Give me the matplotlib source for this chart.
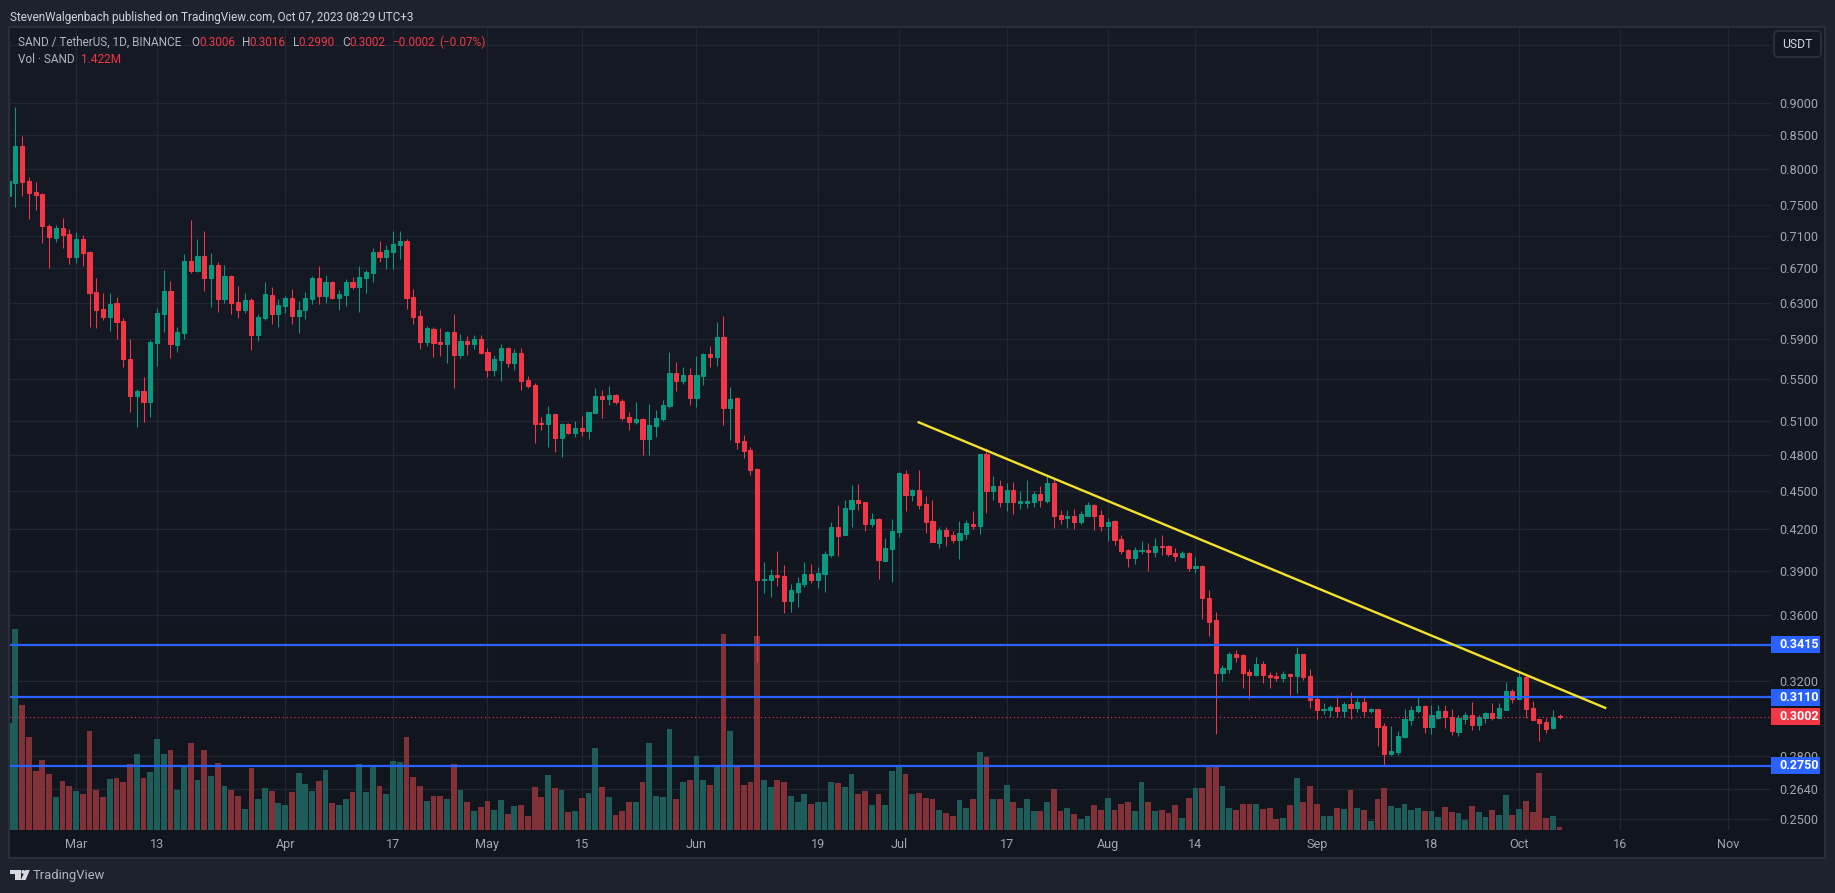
import matplotlib
matplotlib.use('Agg')
import matplotlib.pyplot as plt
import matplotlib.dates as mdates
import numpy as np
import pandas as pd
from matplotlib.patches import FancyBboxPatch, Polygon, Rectangle, Circle
from matplotlib.ticker import NullLocator
from matplotlib.transforms import IdentityTransform

plt.rcParams['font.family'] = ['Roboto', 'DejaVu Sans']

# SAND/USDT daily candles, first one is cut by the left edge
first_day = '2023-02-19'

opens = [0.7631, 0.7810, 0.8340, 0.7834, 0.7681, 0.7653, 0.7227, 0.7078, 0.7202, 0.7125,
         0.6841, 0.7061, 0.6899, 0.6422, 0.6233, 0.6145, 0.6297, 0.6097, 0.5696, 0.5334,
         0.5379, 0.5277, 0.5865, 0.6178, 0.6433, 0.5844, 0.5971, 0.6788, 0.6668, 0.6849,
         0.6585, 0.6740, 0.6346, 0.6609, 0.6308, 0.6222, 0.6331, 0.5950, 0.6133, 0.6388,
         0.6178, 0.6267, 0.6353, 0.6156, 0.6222, 0.6346, 0.6585, 0.6380, 0.6538, 0.6357,
         0.6391, 0.6538, 0.6484, 0.6589, 0.6648, 0.6899, 0.6841, 0.6903, 0.6986, 0.7036,
         0.6365, 0.6152, 0.5876, 0.6010, 0.5872, 0.5851, 0.5978, 0.5740, 0.5883, 0.5851,
         0.5904, 0.5768, 0.5585, 0.5686, 0.5809, 0.5655, 0.5758, 0.5486, 0.5437, 0.5079,
         0.5070, 0.5162, 0.4948, 0.5070, 0.4989, 0.5034, 0.5007, 0.5171, 0.5331, 0.5302,
         0.5341, 0.5284, 0.5136, 0.5087, 0.5115, 0.4938, 0.5056, 0.5115, 0.5237, 0.5555,
         0.5473, 0.5536, 0.5312, 0.5525, 0.5746, 0.5715, 0.5924, 0.5216, 0.5312, 0.4918,
         0.4838, 0.4677, 0.3836, 0.3836, 0.3870, 0.3862, 0.3693, 0.3754, 0.3807, 0.3875,
         0.3836, 0.3875, 0.4011, 0.4217, 0.4158, 0.4353, 0.4425, 0.4410, 0.4240, 0.4278,
         0.3968, 0.4055, 0.4180, 0.4636, 0.4464, 0.4506, 0.4392, 0.4263, 0.4096, 0.4194,
         0.4158, 0.4116, 0.4163, 0.4240, 0.4223, 0.4806, 0.4497, 0.4537, 0.4410, 0.4509,
         0.4401, 0.4401, 0.4410, 0.4473, 0.4419, 0.4561, 0.4309, 0.4286, 0.4301, 0.4257,
         0.4304, 0.4386, 0.4309, 0.4223, 0.4263, 0.4127, 0.4046, 0.3989, 0.4038, 0.4046,
         0.4033, 0.4077, 0.4077, 0.4025, 0.3995, 0.4025, 0.3917, 0.3930, 0.3713, 0.3568,
         0.3249, 0.3270, 0.3359, 0.3353, 0.3253, 0.3235, 0.3299, 0.3235, 0.3229, 0.3218,
         0.3243, 0.3231, 0.3359, 0.3229, 0.3099, 0.3039, 0.3039, 0.3055, 0.3033, 0.3071,
         0.3050, 0.3083, 0.3033, 0.3042, 0.2953, 0.2809, 0.2819, 0.2895, 0.2985, 0.3033,
         0.3061, 0.2948, 0.2995, 0.3033, 0.2999, 0.2921, 0.2990, 0.3012, 0.2958, 0.2995,
         0.3022, 0.2995, 0.3039, 0.3144, 0.3099, 0.3224, 0.3050, 0.2990, 0.2974, 0.2942,
         0.3006]
highs = [0.7834, 0.8943, 0.8491, 0.7885, 0.7820, 0.7672, 0.7253, 0.7240, 0.7327, 0.7189,
         0.7146, 0.7112, 0.6911, 0.6585, 0.6407, 0.6410, 0.6361, 0.6126, 0.5904, 0.5398,
         0.5515, 0.5893, 0.6237, 0.6680, 0.6550, 0.6036, 0.6874, 0.7305, 0.7061, 0.7163,
         0.6886, 0.6772, 0.6740, 0.6620, 0.6491, 0.6407, 0.6350, 0.6174, 0.6534, 0.6480,
         0.6342, 0.6376, 0.6457, 0.6319, 0.6422, 0.6609, 0.6728, 0.6620, 0.6550, 0.6445,
         0.6573, 0.6597, 0.6728, 0.6680, 0.6948, 0.7036, 0.6986, 0.7163, 0.7163, 0.7061,
         0.6457, 0.6218, 0.6043, 0.6028, 0.6021, 0.5989, 0.6174, 0.5957, 0.5936, 0.5950,
         0.5946, 0.5809, 0.5737, 0.5851, 0.5820, 0.5799, 0.5809, 0.5526, 0.5457, 0.5134,
         0.5236, 0.5162, 0.5079, 0.5079, 0.5098, 0.5144, 0.5180, 0.5408, 0.5389, 0.5427,
         0.5350, 0.5298, 0.5184, 0.5273, 0.5125, 0.5255, 0.5195, 0.5291, 0.5766, 0.5661,
         0.5612, 0.5604, 0.5727, 0.5758, 0.5829, 0.6087, 0.6153, 0.5418, 0.5320, 0.4975,
         0.4868, 0.4687, 0.3960, 0.3912, 0.4038, 0.3936, 0.3810, 0.3857, 0.3960, 0.3946,
         0.3922, 0.4036, 0.4254, 0.4383, 0.4422, 0.4543, 0.4552, 0.4410, 0.4321, 0.4286,
         0.4135, 0.4278, 0.4649, 0.4668, 0.4513, 0.4668, 0.4461, 0.4425, 0.4217, 0.4214,
         0.4189, 0.4260, 0.4269, 0.4339, 0.4809, 0.4861, 0.4621, 0.4583, 0.4559, 0.4574,
         0.4497, 0.4586, 0.4497, 0.4537, 0.4621, 0.4605, 0.4348, 0.4345, 0.4353, 0.4339,
         0.4407, 0.4392, 0.4348, 0.4286, 0.4269, 0.4160, 0.4057, 0.4071, 0.4113, 0.4096,
         0.4135, 0.4158, 0.4082, 0.4060, 0.4036, 0.4030, 0.3995, 0.3936, 0.3766, 0.3619,
         0.3294, 0.3371, 0.3383, 0.3359, 0.3270, 0.3341, 0.3317, 0.3253, 0.3253, 0.3258,
         0.3249, 0.3401, 0.3359, 0.3270, 0.3116, 0.3075, 0.3066, 0.3121, 0.3083, 0.3138,
         0.3105, 0.3116, 0.3050, 0.3044, 0.2969, 0.2953, 0.2927, 0.3044, 0.3061, 0.3110,
         0.3066, 0.3066, 0.3066, 0.3066, 0.3044, 0.3012, 0.3028, 0.3083, 0.3012, 0.3028,
         0.3075, 0.3077, 0.3195, 0.3155, 0.3247, 0.3235, 0.3088, 0.2990, 0.2995, 0.3039,
         0.3016]
lows = [0.7631, 0.7482, 0.7631, 0.7323, 0.7442, 0.7015, 0.6708, 0.7027, 0.6952, 0.6756,
        0.6768, 0.6732, 0.6036, 0.6025, 0.6112, 0.5992, 0.5900, 0.5618, 0.5184, 0.5046,
        0.5092, 0.5137, 0.5629, 0.5975, 0.5710, 0.5764, 0.5900, 0.6648, 0.6656, 0.6437,
        0.6256, 0.6200, 0.6293, 0.6178, 0.6134, 0.6181, 0.5792, 0.5883, 0.6105, 0.6068,
        0.6036, 0.6189, 0.6068, 0.5971, 0.6123, 0.6289, 0.6289, 0.6300, 0.6346, 0.6222,
        0.6267, 0.6460, 0.6200, 0.6414, 0.6542, 0.6780, 0.6696, 0.6696, 0.6817, 0.6233,
        0.6068, 0.5802, 0.5834, 0.5720, 0.5730, 0.5659, 0.5411, 0.5710, 0.5740, 0.5799,
        0.5751, 0.5519, 0.5529, 0.5479, 0.5618, 0.5585, 0.5389, 0.5411, 0.4901, 0.5016,
        0.4869, 0.4822, 0.4780, 0.4980, 0.4954, 0.4963, 0.4936, 0.5171, 0.5125, 0.5246,
        0.5255, 0.5104, 0.5015, 0.5073, 0.4793, 0.4793, 0.4955, 0.5097, 0.5220, 0.5378,
        0.5447, 0.5244, 0.5227, 0.5436, 0.5612, 0.5623, 0.5060, 0.4928, 0.4848, 0.4770,
        0.4627, 0.3312, 0.3746, 0.3721, 0.3797, 0.3614, 0.3622, 0.3653, 0.3787, 0.3815,
        0.3779, 0.3756, 0.3997, 0.4003, 0.4158, 0.4217, 0.4348, 0.4183, 0.4217, 0.3841,
        0.3968, 0.3823, 0.4141, 0.4339, 0.4419, 0.4356, 0.4172, 0.4104, 0.4060, 0.4077,
        0.4099, 0.3981, 0.4127, 0.4200, 0.4166, 0.4327, 0.4425, 0.4371, 0.4342, 0.4315,
        0.4353, 0.4359, 0.4374, 0.4374, 0.4401, 0.4209, 0.4243, 0.4209, 0.4200, 0.4243,
        0.4301, 0.4197, 0.4183, 0.4110, 0.4085, 0.4016, 0.3925, 0.3946, 0.4016, 0.3896,
        0.3995, 0.4011, 0.4006, 0.3968, 0.3992, 0.3896, 0.3885, 0.3577, 0.3472, 0.2912,
        0.3201, 0.3247, 0.3311, 0.3161, 0.3099, 0.3229, 0.3189, 0.3159, 0.3201, 0.3195,
        0.3121, 0.3133, 0.3206, 0.3050, 0.2990, 0.3017, 0.2999, 0.2999, 0.2999, 0.2990,
        0.3028, 0.3004, 0.3024, 0.2849, 0.2754, 0.2803, 0.2803, 0.2890, 0.2958, 0.3022,
        0.2916, 0.2911, 0.2990, 0.2942, 0.2906, 0.2900, 0.2963, 0.2932, 0.2932, 0.2969,
        0.2985, 0.2995, 0.3039, 0.3077, 0.3099, 0.2995, 0.2985, 0.2875, 0.2916, 0.2937,
        0.2990]
closes = [0.7834, 0.8340, 0.7824, 0.7672, 0.7640, 0.7232, 0.7091, 0.7202, 0.7112, 0.6841,
          0.7061, 0.6886, 0.6414, 0.6222, 0.6145, 0.6289, 0.6090, 0.5693, 0.5334, 0.5379,
          0.5277, 0.5872, 0.6185, 0.6433, 0.5855, 0.5978, 0.6788, 0.6668, 0.6849, 0.6585,
          0.6740, 0.6346, 0.6609, 0.6300, 0.6222, 0.6331, 0.5950, 0.6141, 0.6399, 0.6178,
          0.6274, 0.6353, 0.6156, 0.6218, 0.6353, 0.6585, 0.6380, 0.6538, 0.6357, 0.6403,
          0.6538, 0.6484, 0.6597, 0.6656, 0.6899, 0.6841, 0.6923, 0.6998, 0.7036, 0.6357,
          0.6145, 0.5876, 0.6021, 0.5865, 0.5851, 0.5978, 0.5740, 0.5883, 0.5851, 0.5904,
          0.5758, 0.5585, 0.5696, 0.5809, 0.5655, 0.5758, 0.5476, 0.5427, 0.5070, 0.5070,
          0.5162, 0.4948, 0.5070, 0.4989, 0.5034, 0.5007, 0.5180, 0.5331, 0.5302, 0.5341,
          0.5274, 0.5125, 0.5087, 0.5115, 0.4938, 0.5060, 0.5125, 0.5244, 0.5555, 0.5480,
          0.5536, 0.5312, 0.5536, 0.5746, 0.5715, 0.5924, 0.5216, 0.5302, 0.4911, 0.4832,
          0.4668, 0.3836, 0.3841, 0.3870, 0.3857, 0.3693, 0.3766, 0.3815, 0.3875, 0.3833,
          0.3883, 0.4016, 0.4217, 0.4149, 0.4362, 0.4425, 0.4401, 0.4240, 0.4278, 0.3976,
          0.4060, 0.4183, 0.4646, 0.4464, 0.4503, 0.4386, 0.4254, 0.4104, 0.4194, 0.4149,
          0.4116, 0.4172, 0.4246, 0.4223, 0.4806, 0.4497, 0.4537, 0.4410, 0.4509, 0.4410,
          0.4419, 0.4419, 0.4473, 0.4422, 0.4562, 0.4300, 0.4278, 0.4301, 0.4257, 0.4315,
          0.4383, 0.4304, 0.4223, 0.4254, 0.4116, 0.4038, 0.3989, 0.4046, 0.4046, 0.4033,
          0.4077, 0.4068, 0.4016, 0.4003, 0.4022, 0.3917, 0.3933, 0.3713, 0.3560, 0.3247,
          0.3276, 0.3359, 0.3341, 0.3247, 0.3235, 0.3299, 0.3235, 0.3224, 0.3218, 0.3241,
          0.3229, 0.3359, 0.3224, 0.3094, 0.3039, 0.3044, 0.3055, 0.3033, 0.3071, 0.3050,
          0.3083, 0.3033, 0.3044, 0.2948, 0.2809, 0.2824, 0.2900, 0.2990, 0.3039, 0.3061,
          0.2948, 0.3012, 0.3033, 0.3001, 0.2927, 0.2995, 0.3012, 0.2958, 0.2999, 0.3022,
          0.2995, 0.3050, 0.3144, 0.3099, 0.3224, 0.3044, 0.2985, 0.2969, 0.2937, 0.3001,
          0.3002]
# volume in millions of SAND
volumes = [50.6, 95.3, 59.2, 44.1, 28.0, 33.2, 26.5, 15.6, 23.2, 20.9, 18.5, 17.1, 46.9, 19.0,
           15.6, 24.2, 24.6, 22.8, 31.3, 36.0, 24.6, 27.5, 43.1, 36.0, 37.9, 19.0, 30.3, 41.2,
           23.7, 37.9, 25.6, 31.8, 20.9, 19.0, 16.1, 10.0, 29.4, 14.7, 19.9, 18.5, 12.8, 11.8,
           18.0, 27.0, 21.8, 18.5, 23.2, 28.4, 12.8, 11.8, 14.7, 18.0, 31.3, 18.0, 30.8, 20.9,
           17.1, 32.7, 32.2, 44.1, 25.1, 20.9, 13.7, 16.1, 16.1, 14.7, 31.3, 19.0, 13.3, 9.0,
           10.9, 13.7, 9.5, 14.2, 7.6, 11.4, 11.8, 6.6, 20.4, 15.6, 26.1, 19.9, 19.0, 8.5, 9.0,
           15.2, 17.5, 38.9, 20.4, 15.6, 7.1, 9.1, 13.4, 13.4, 22.9, 41.1, 16.3, 15.8, 47.7,
           14.5, 22.6, 23.5, 35.3, 23.8, 21.2, 30.3, 92.7, 47.1, 30.3, 21.5, 22.6, 92.1, 23.8,
           20.6, 23.8, 22.9, 16.3, 13.4, 16.9, 12.5, 13.4, 13.1, 22.6, 22.1, 20.6, 26.4, 16.9,
           18.3, 11.7, 16.9, 12.0, 27.8, 31.0, 26.4, 17.2, 17.7, 15.4, 14.5, 9.7, 7.9, 6.8,
           14.0, 10.6, 14.9, 36.8, 34.8, 14.9, 14.5, 21.5, 13.4, 10.2, 14.5, 9.1, 9.1, 13.1,
           19.2, 9.1, 10.6, 7.4, 5.4, 6.8, 11.7, 9.7, 15.4, 9.7, 12.5, 13.4, 9.1, 22.9, 13.4,
           8.8, 9.7, 7.9, 12.0, 5.9, 15.4, 19.7, 20.1, 30.3, 30.3, 20.9, 10.4, 9.5, 12.3, 12.3,
           12.3, 10.0, 10.4, 5.2, 5.7, 11.8, 24.6, 13.3, 20.9, 12.3, 6.6, 6.6, 10.4, 10.0, 19.0,
           10.4, 9.5, 4.3, 14.7, 19.9, 11.4, 10.4, 12.3, 9.5, 10.4, 9.0, 9.0, 6.2, 10.9, 8.5,
           8.1, 4.7, 11.4, 8.5, 6.2, 9.5, 7.1, 16.6, 7.1, 10.0, 13.7, 8.5, 27.0, 5.7, 6.6, 1.4]

price_ticks = [1.0, 0.9, 0.85, 0.8, 0.75, 0.71, 0.67, 0.63, 0.59, 0.55, 0.51, 0.48, 0.45,
               0.42, 0.39, 0.36, 0.32, 0.28, 0.264, 0.25]
time_ticks = ['2023-03-01', '2023-03-13', '2023-04-01', '2023-04-17', '2023-05-01', '2023-05-15',
              '2023-06-01', '2023-06-19', '2023-07-01', '2023-07-17', '2023-08-01', '2023-08-14',
              '2023-09-01', '2023-09-18', '2023-10-01', '2023-10-16', '2023-11-01']
time_labels = ['Mar', '13', 'Apr', '17', 'May', '15', 'Jun', '19', 'Jul', '17', 'Aug', '14',
               'Sep', '18', 'Oct', '16', 'Nov']
levels = [0.3415, 0.3110, 0.2750]
last_close = 0.3002
trend_days = ['2023-07-03 19:00', '2023-10-13 22:00']
trend_prices = [0.5090, 0.3048]

W, H = 1835, 893
UP, DOWN = '#089981', '#f23645'
BLUE = '#2962ff'
TEXT = '#b2b5be'
MUTED = '#a3a6af'
AX_L, AX_R, AX_T, AX_B = 10, 1771, 27, 830


def rect(x0, y0, x1, y1):
    return [x0 / W, 1 - y1 / H, (x1 - x0) / W, (y1 - y0) / H]


def ftext(x, y, s, **kw):
    kw.setdefault('fontsize', 8.45)
    kw.setdefault('va', 'center')
    return fig.text(x / W, 1 - y / H, s, zorder=10, **kw)


def pbox(x0, y0, x1, y1, color):
    fig.add_artist(Rectangle((x0, H - y1), x1 - x0, y1 - y0, facecolor=color, edgecolor='none',
                             transform=IdentityTransform(), zorder=9))


fig = plt.figure(figsize=(W / 100, H / 100), dpi=100, facecolor='#1e222d')

# chart panel, slightly darker towards the bottom
panel = fig.add_axes(rect(10, 27, 1824, 857), zorder=0)
panel.imshow(np.linspace(0, 1, 64).reshape(-1, 1), aspect='auto', cmap=matplotlib.colors.LinearSegmentedColormap.from_list('p', ['#161a25', '#11151e']))
panel.axis('off')
fig.add_artist(Rectangle((9, H - 858), 1816, 831, facecolor='none', edgecolor='#2a2e39', linewidth=1.5,
                         transform=IdentityTransform(), zorder=1))

dates = mdates.date2num(pd.date_range(first_day, periods=len(opens)))
xlim = (mdates.date2num(pd.Timestamp('2023-02-20')) - 0.80, mdates.date2num(pd.Timestamp('2023-02-20')) + 260.35)
ylim = (0.24513, 1.0320)

# grid and axis labels
ax = fig.add_axes(rect(AX_L, AX_T, AX_R, AX_B), zorder=2)
ax.patch.set_visible(False)
ax.set_yscale('log')
ax.set_xlim(*xlim)
ax.set_ylim(*ylim)
ax.yaxis.tick_right()
ax.set_yticks(price_ticks)
ax.set_yticklabels([''] + ['%.4f' % p for p in price_ticks[1:]])
ax.yaxis.set_minor_locator(NullLocator())
ax.set_xticks(mdates.date2num(pd.to_datetime(time_ticks)))
ax.set_xticklabels(time_labels)
ax.tick_params(axis='both', length=0, colors=MUTED, labelsize=9.1)
ax.tick_params(axis='y', pad=5.8)
ax.tick_params(axis='x', pad=5.8)
ax.grid(True, color='#232732', linewidth=0.9)
ax.set_axisbelow(True)
for s in ax.spines.values():
    s.set_visible(False)

is_up = np.array(closes) >= np.array(opens)

# volume pane shares the bottom edge of the price pane
ax_vol = fig.add_axes(rect(AX_L, AX_T, AX_R, AX_B), zorder=3)
ax_vol.patch.set_visible(False)
ax_vol.axis('off')
ax_vol.bar(dates, volumes, width=0.86, color=np.where(is_up, '#1f625e', '#8b3439'), alpha=0.93, linewidth=0)
ax_vol.set_xlim(*xlim)
ax_vol.set_ylim(0, 380.6)

ax_top = fig.add_axes(rect(AX_L, AX_T, AX_R, AX_B), zorder=4)
ax_top.patch.set_visible(False)
ax_top.set_yscale('log')
ax_top.axis('off')
colors = np.where(is_up, UP, DOWN)
ax_top.vlines(dates, lows, highs, colors=colors, linewidth=0.75)
ax_top.bar(dates, np.abs(np.array(closes) - np.array(opens)), bottom=np.minimum(opens, closes), width=0.62,
           color=colors, edgecolor=colors, linewidth=0.72)
for lvl in levels:
    ax_top.axhline(lvl, color=BLUE, linewidth=1.6, zorder=5)
ax_top.axhline(last_close, color=DOWN, linewidth=0.8, linestyle=(0, (1, 2.5)), zorder=4)
ax_top.plot(mdates.date2num(pd.to_datetime(trend_days)), trend_prices, color='#f5e32a', linewidth=1.7,
            zorder=6, solid_capstyle='butt')
ax_top.set_xlim(*xlim)
ax_top.set_ylim(*ylim)

# price labels on the scale
for lvl, col in [(0.3415, BLUE), (0.3110, BLUE), (0.3002, DOWN), (0.2750, BLUE)]:
    yp = H - ax_top.transData.transform((xlim[0], lvl))[1]
    pbox(1771, yp - 8.5, 1820, yp + 8.5, col)
    ftext(1779, yp, '%.4f' % lvl, color='white', fontsize=9.0, fontweight='bold')

# header
ftext(10, 17, 'StevenWalgenbach published on TradingView.com, Oct 07, 2023 08:29 UTC+3', color='#d1d4dc')
ftext(18, 42, 'SAND / TetherUS, 1D, BINANCE', color=TEXT)
for x, s, col in [(191, 'O', TEXT), (199, '0.3006', DOWN), (242, 'H', TEXT), (249, '0.3016', DOWN),
                  (293, 'L', TEXT), (298, '0.2990', DOWN), (342, 'C', TEXT), (349, '0.3002', DOWN),
                  (392, '\u22120.0002', DOWN), (439, '(\u22120.07%)', DOWN)]:
    ftext(x, 42, s, color=col)
ftext(18, 59.5, 'Vol \u00b7 SAND', color=TEXT)
ftext(81.5, 59.5, '1.422M', color=DOWN)

# currency button
fig.add_artist(FancyBboxPatch((1776, H - 55), 43, 22, boxstyle='round,pad=2,rounding_size=4', facecolor='#131722',
                              edgecolor='#2a2e39', linewidth=1.4, transform=IdentityTransform(), zorder=9))
ftext(1797.5, 44, 'USDT', color='#d1d4dc', ha='center', fontsize=8.8)

# TradingView logo
logo = '#d8dae0'
fig.add_artist(Polygon([(10, H - 870), (20.5, H - 870), (20.5, H - 880), (15, H - 880), (15, H - 873.8), (10, H - 873.8)],
                       facecolor=logo, edgecolor='none', transform=IdentityTransform(), zorder=9))
fig.add_artist(Circle((23.2, H - 871.9), 1.9, facecolor=logo, edgecolor='none', transform=IdentityTransform(), zorder=9))
fig.add_artist(Polygon([(25.5, H - 870), (29.8, H - 870), (25.6, H - 880), (20.8, H - 880)],
                       facecolor=logo, edgecolor='none', transform=IdentityTransform(), zorder=9))
ftext(33, 875.5, 'TradingView', color=TEXT, fontsize=9.4)

fig.savefig('out.png', dpi=100, facecolor=fig.get_facecolor())
